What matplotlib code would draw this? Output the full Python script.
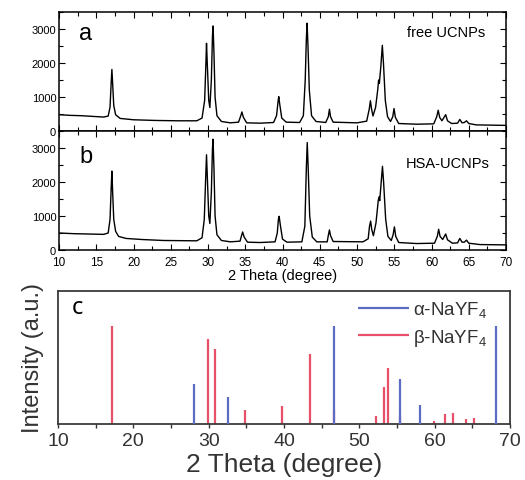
import matplotlib
matplotlib.use("Agg")
import matplotlib.pyplot as plt
from matplotlib.ticker import MultipleLocator, NullFormatter

plt.rcParams['font.family'] = ['Liberation Sans', 'DejaVu Sans']
plt.rcParams['mathtext.fontset'] = 'custom'
plt.rcParams['mathtext.rm'] = 'Liberation Sans'

# XRD pattern, free UCNPs (2theta, counts)
free_tt = [10.0, 11.5, 13.0, 14.5, 16.0, 16.6, 16.85, 17.0, 17.1, 17.2, 17.35, 17.6, 18.2,
           20.0, 23.0, 26.0, 28.5, 29.2, 29.55, 29.72, 29.8, 29.9, 30.1, 30.25, 30.45,
           30.6, 30.68, 30.8, 30.95, 31.2, 31.8, 33.0, 34.1, 34.4, 34.55, 34.75, 35.2,
           37.0, 38.8, 39.2, 39.42, 39.5, 39.62, 39.9, 40.5, 42.3, 42.8, 43.05, 43.2,
           43.3, 43.42, 43.6, 43.9, 44.5, 45.8, 46.15, 46.3, 46.45, 46.8, 50.0, 51.3,
           51.65, 51.8, 51.95, 52.15, 52.5, 52.8, 52.9, 53.0, 53.2, 53.4, 53.55, 53.8,
           54.1, 54.5, 54.8, 54.97, 55.15, 55.6, 58.0, 60.3, 60.7, 60.9, 61.1, 61.4,
           61.9, 62.15, 62.7, 63.5, 63.8, 64.1, 64.4, 64.7, 65.0, 66.0, 70.0]
free_cnt = [480, 460, 450, 430, 410, 440, 700, 1400, 1810, 1400, 750, 480, 370,
            330, 310, 300, 300, 380, 900, 2000, 2580, 2000, 900, 690, 1500,
            2800, 3090, 2300, 1000, 450, 280, 240, 260, 450, 560, 400, 240,
            230, 250, 450, 900, 1010, 800, 380, 260, 250, 450, 1500, 2700,
            3170, 2500, 1200, 450, 280, 250, 420, 640, 420, 260, 240, 290,
            650, 890, 650, 440, 700, 1245, 1500, 1400, 1900, 2520, 2000, 900,
            420, 280, 420, 660, 400, 220, 200, 210, 420, 610, 400, 300,
            480, 300, 220, 230, 340, 240, 250, 300, 220, 180, 165]

# XRD pattern, HSA-UCNPs
hsa_tt = [10.0, 12.0, 14.0, 16.0, 16.6, 16.85, 17.0, 17.1, 17.2, 17.35, 17.6, 18.0,
          19.0, 21.0, 24.0, 28.5, 29.2, 29.5, 29.7, 29.8, 29.9, 30.1, 30.25, 30.45,
          30.6, 30.68, 30.8, 30.95, 31.2, 31.8, 33.0, 34.3, 34.5, 34.65, 34.85, 35.3,
          37.0, 39.0, 39.3, 39.45, 39.55, 39.7, 40.0, 40.6, 42.6, 43.0, 43.2, 43.32,
          43.45, 43.65, 44.0, 44.6, 46.0, 46.15, 46.3, 46.45, 46.8, 50.8, 51.5, 51.68,
          51.83, 51.98, 52.2, 52.55, 52.85, 52.95, 53.05, 53.25, 53.42, 53.57, 53.85,
          54.15, 54.6, 54.85, 55.02, 55.2, 55.6, 58.0, 60.4, 60.78, 60.96, 61.15, 61.5,
          61.9, 62.15, 62.8, 63.5, 63.8, 64.1, 64.4, 64.7, 65.0, 66.5, 70.0]
hsa_cnt = [500, 480, 470, 460, 500, 900, 1800, 2320, 1700, 900, 550, 400,
           340, 310, 280, 270, 360, 900, 2200, 2800, 2200, 1000, 780, 1700,
           3000, 3260, 2400, 1000, 450, 280, 240, 260, 420, 530, 380, 230,
           220, 240, 500, 900, 990, 750, 320, 230, 240, 700, 2400, 3160,
           2400, 1000, 380, 240, 240, 430, 590, 420, 250, 240, 330, 700,
           850, 600, 420, 800, 1450, 1560, 1450, 2000, 2460, 2000, 900,
           400, 280, 450, 680, 400, 220, 190, 200, 400, 610, 400, 310,
           470, 300, 200, 210, 340, 230, 230, 290, 200, 160, 150]

# reference lines
beta_tt = [17.2, 29.95, 30.85, 34.8, 39.7, 43.5, 46.6, 52.2, 53.3, 53.8, 55.4,
           59.9, 61.35, 62.4, 64.2, 65.2]
beta_int = [74, 63.8, 56.3, 10.5, 13.5, 52.5, 10.8, 6, 27.5, 41.8, 7,
            2.5, 7.5, 8.3, 3.8, 4.5]
alpha_tt = [28.05, 32.5, 46.7, 55.4, 58.1, 68.2]
alpha_int = [30, 20.5, 74, 33.5, 14.3, 74]

W, H = 525, 481
fig = plt.figure(figsize=(W / 100, H / 100), dpi=100)


def frac(left, top, right, bottom):
    return [left / W, 1 - bottom / H, (right - left) / W, (bottom - top) / H]


def xrd_panel(ax, tt, cnt, letter, name, letter_y, name_y, name_x):
    ax.plot(tt, cnt, color='black', lw=1.0)
    ax.set_xlim(10, 70)
    ax.set_ylim(0, 3500)
    ax.xaxis.set_major_locator(MultipleLocator(5))
    ax.xaxis.set_minor_locator(MultipleLocator(2.5))
    ax.yaxis.set_major_locator(MultipleLocator(1000))
    ax.yaxis.set_minor_locator(MultipleLocator(500))
    ax.tick_params(which='both', direction='in', top=True, right=True,
                   labelsize=8, width=0.8, pad=2)
    ax.tick_params(which='major', length=4)
    ax.tick_params(which='minor', length=3)
    for s in ax.spines.values():
        s.set_linewidth(1.1)
    ax.text(0.045, letter_y, letter, transform=ax.transAxes, fontsize=17,
            va='center', ha='left')
    ax.text(name_x, name_y, name, transform=ax.transAxes, fontsize=10.5,
            va='center', ha='right')


ax_a = fig.add_axes(frac(59, 13, 506, 132))
ax_b = fig.add_axes(frac(59, 132, 506, 251))
xrd_panel(ax_a, free_tt, free_cnt, 'a', 'free UCNPs', 0.82, 0.83, 0.953)
xrd_panel(ax_b, hsa_tt, hsa_cnt, 'b', 'HSA-UCNPs', 0.79, 0.73, 0.964)
ax_a.xaxis.set_major_formatter(NullFormatter())
ax_b.tick_params(axis='x', pad=4, labelsize=8.5)
ax_b.set_xlabel('2 Theta (degree)', fontsize=10.5, labelpad=0)

# standard patterns
ax_c = fig.add_axes(frac(58, 292, 510, 425))
ax_c.vlines(alpha_tt, 0, alpha_int, color='#5b6cc2', lw=1.6,
            label='α-NaYF$_4$', zorder=3)
ax_c.vlines(beta_tt, 0, beta_int, color='#e8506a', lw=1.6,
            label='β-NaYF$_4$', zorder=2)
ax_c.set_xlim(10, 70)
ax_c.set_ylim(0, 100)
ax_c.set_yticks([])
ax_c.xaxis.set_major_locator(MultipleLocator(10))
ax_c.xaxis.set_minor_locator(MultipleLocator(5))
ax_c.tick_params(which='both', direction='out', length=3, width=1.0,
                 colors='#333333', labelsize=14, pad=3)
for s in ax_c.spines.values():
    s.set_linewidth(1.3)
    s.set_color('#3a3a3a')
ax_c.set_xlabel('2 Theta (degree)', fontsize=19, color='#333333', labelpad=2)
ax_c.set_ylabel('Intensity (a.u.)', fontsize=17, color='#333333', labelpad=10)
ax_c.text(0.03, 0.88, 'c', transform=ax_c.transAxes, fontsize=17,
          family=['Noto Sans', 'DejaVu Sans'], va='center', ha='left')
ax_c.legend(loc='upper right', bbox_to_anchor=(0.965, 0.99), frameon=False,
            fontsize=13.5, handlelength=2.7, handletextpad=0.2,
            labelspacing=0.35, borderaxespad=0, labelcolor='#333333')

fig.savefig('out.png', dpi=100)
